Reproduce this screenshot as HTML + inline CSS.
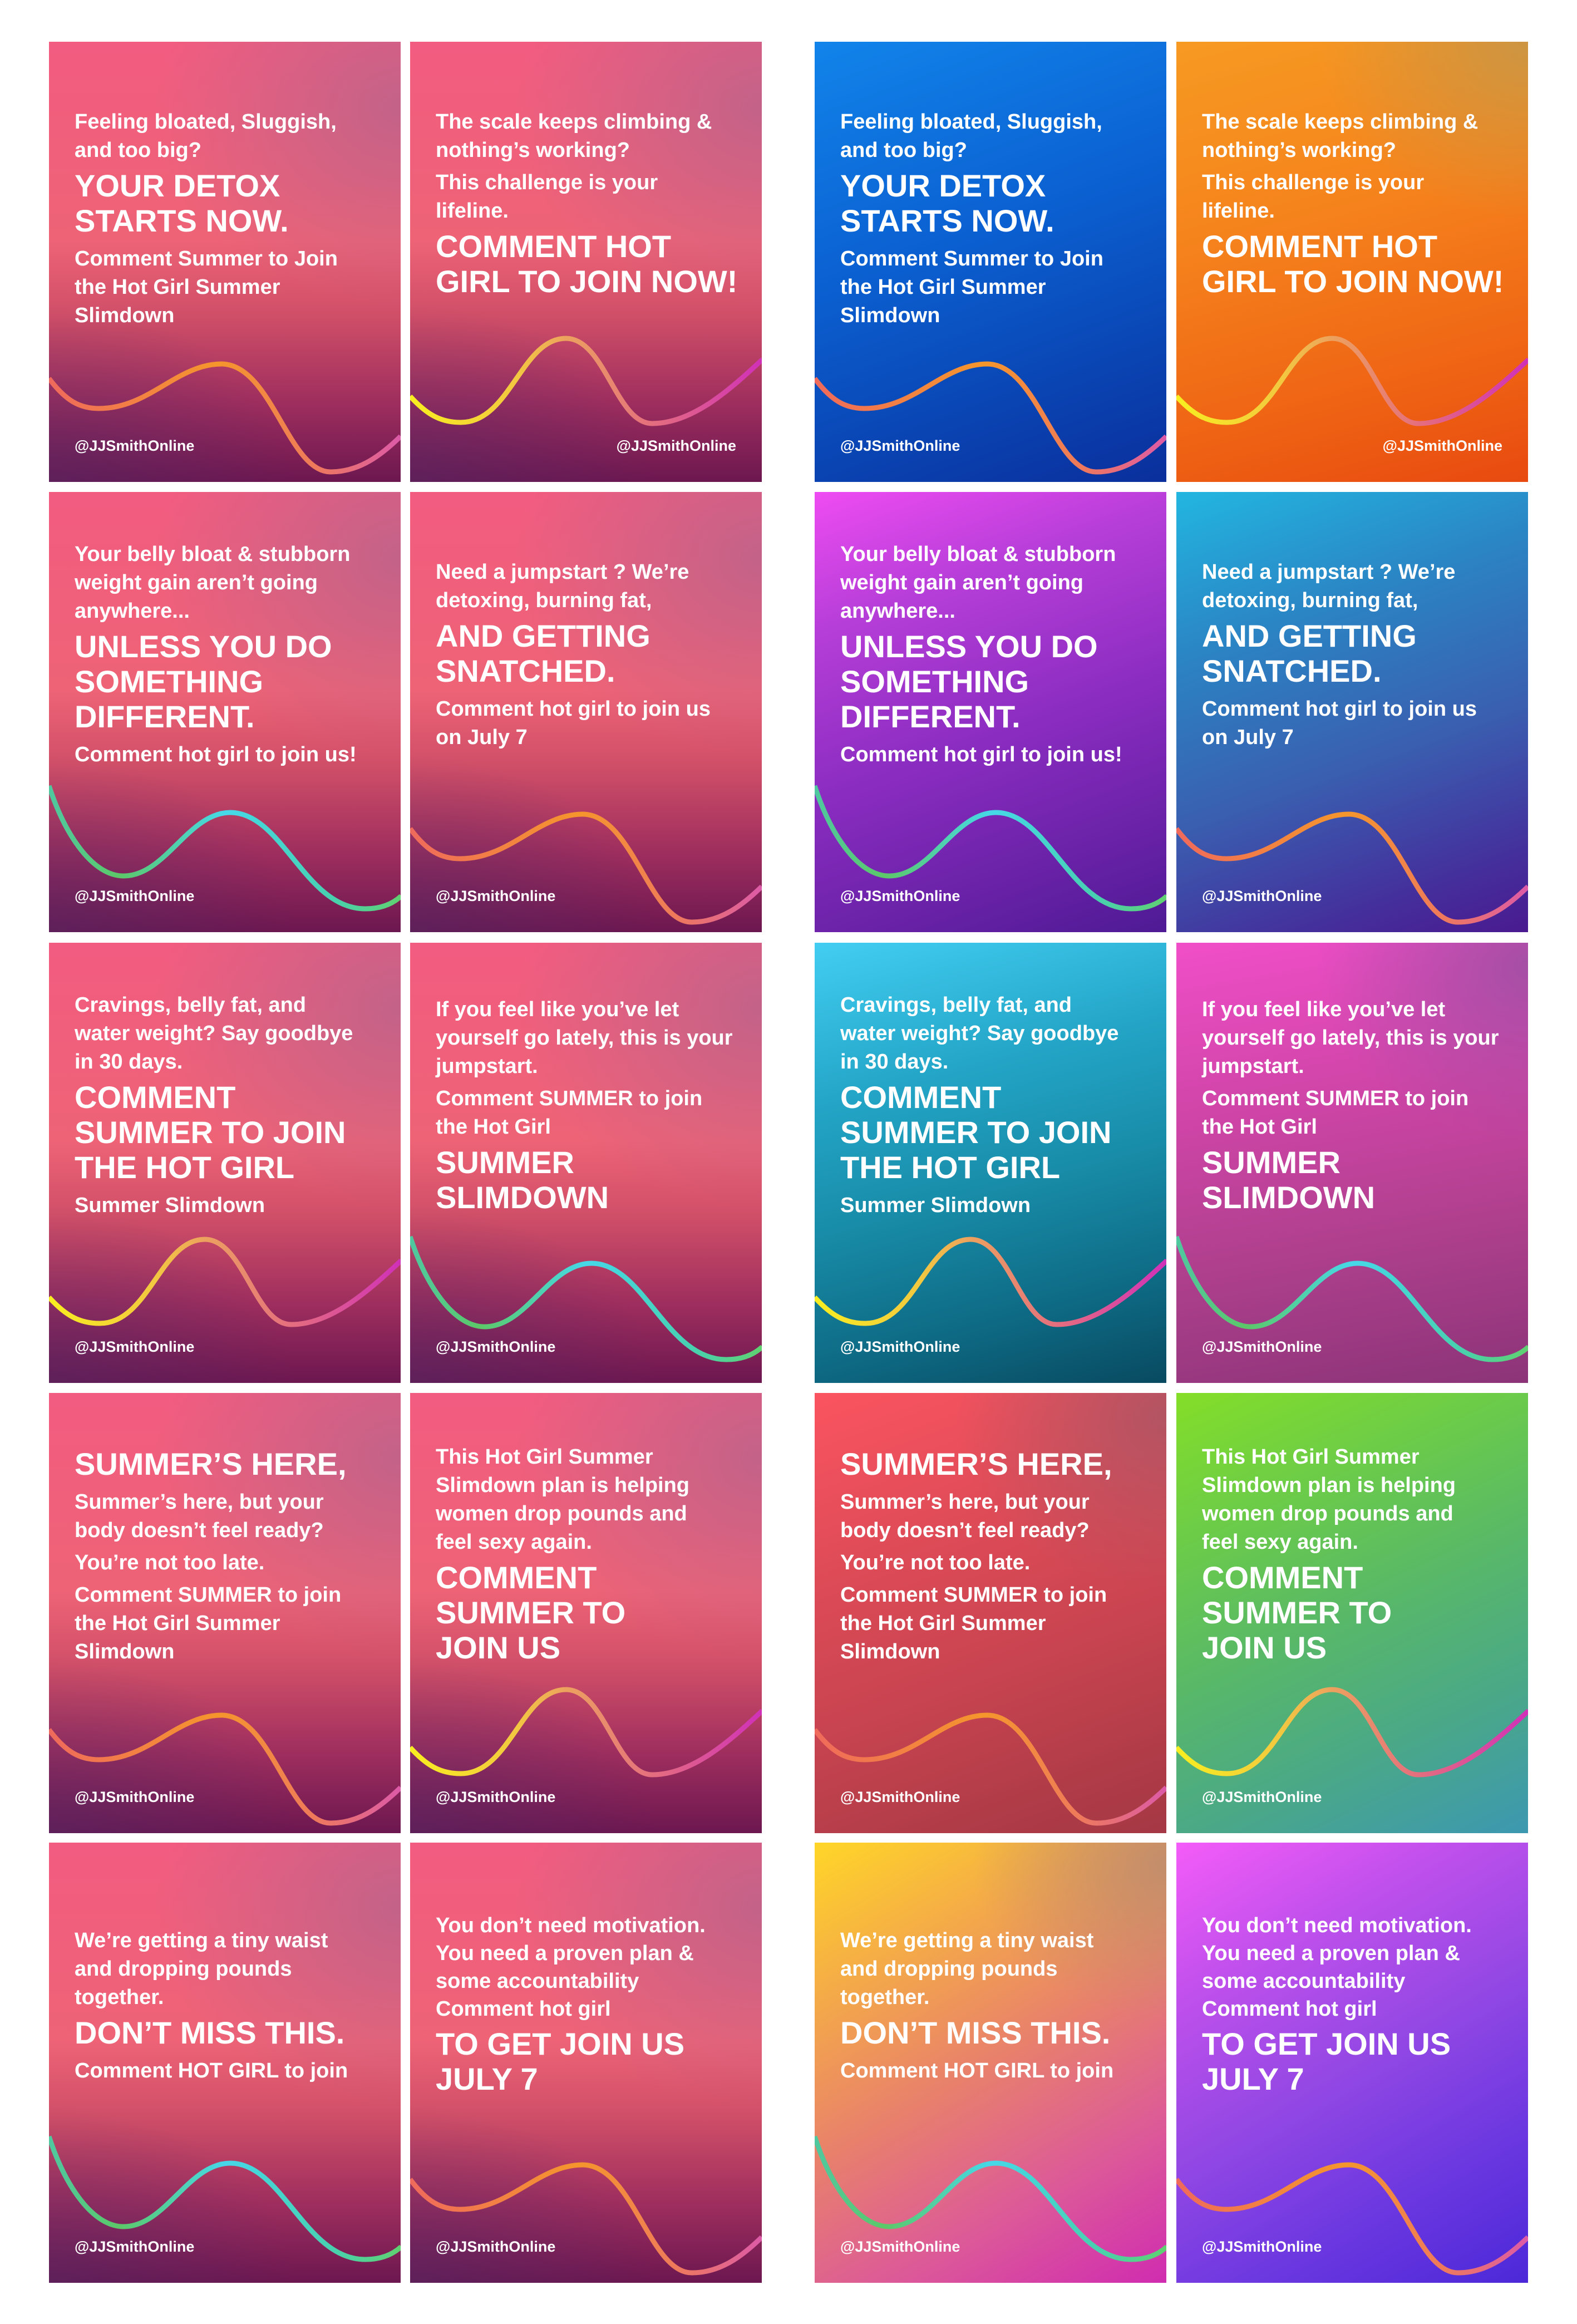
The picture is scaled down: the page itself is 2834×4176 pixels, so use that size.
<!DOCTYPE html>
<html><head><meta charset="utf-8">
<style>
html,body{margin:0;padding:0;background:#fff;}
body{width:2834px;height:4176px;position:relative;overflow:hidden;font-family:"Liberation Sans",sans-serif;color:#fff;}
.c{position:absolute;width:632px;height:791px;overflow:hidden;}
.c svg{position:absolute;left:0;top:0;}
.t{position:absolute;left:46px;top:119px;white-space:nowrap;}
.b{font-size:38px;line-height:51px;font-weight:bold;margin-top:7px;}
.h{font-size:56px;line-height:63px;font-weight:bold;margin-top:6px;}
.h+.b{margin-top:12px;}
.t>div:first-child{margin-top:0;}
.hd{position:absolute;left:46px;top:710px;font-size:27px;line-height:32px;font-weight:bold;}
.hd.r{left:auto;right:46px;}
.pink{background:radial-gradient(ellipse 70% 45% at 100% 15%,rgba(180,100,140,.75),rgba(180,100,140,0)),radial-gradient(ellipse 70% 40% at 0% 100%,rgba(80,40,100,.5),rgba(80,40,100,0)),linear-gradient(to bottom,#f25c80 0%,#ee6376 45%,#d04f68 62%,#9e2e5e 82%,#6c1750 100%);}
</style></head><body>
<svg width="0" height="0" style="position:absolute">
<defs>
<linearGradient id="gA" x1="0" y1="0" x2="632" y2="0" gradientUnits="userSpaceOnUse"><stop offset="0" stop-color="#ef6a5c"/><stop offset=".48" stop-color="#f5962c"/><stop offset=".75" stop-color="#ee7a5a"/><stop offset="1" stop-color="#dc5aa8"/></linearGradient>
<linearGradient id="gB" x1="0" y1="0" x2="632" y2="0" gradientUnits="userSpaceOnUse"><stop offset="0" stop-color="#f8ee20"/><stop offset=".3" stop-color="#f2c840"/><stop offset=".45" stop-color="#eca060"/><stop offset=".7" stop-color="#e46c80"/><stop offset="1" stop-color="#d030b8"/></linearGradient>
<linearGradient id="gC" x1="0" y1="0" x2="632" y2="0" gradientUnits="userSpaceOnUse"><stop offset="0" stop-color="#50c8a0"/><stop offset=".2" stop-color="#5cc868"/><stop offset=".5" stop-color="#46d8e8"/><stop offset=".8" stop-color="#48d0b0"/><stop offset="1" stop-color="#60d070"/></linearGradient>
<path id="wA" d="M0,605 C30,645 55,659 90,659 C180,659 230,579 310,579 C400,579 430,773 506,773 C560,773 600,740 632,709"/>
<path id="wB" d="M0,637 C30,670 55,684 91,684 C180,684 200,533 280,533 C350,533 370,686 435,686 C510,686 580,620 633,571"/>
<path id="wC" d="M0,528 C30,620 80,690 134,690 C210,690 250,576 326,576 C420,576 460,749 568,749 C600,749 620,738 633,726"/>
</defs></svg>

<!-- Row 1 -->
<div class="c pink" style="left:88px;top:75px;">
<svg width="632" height="791"><use href="#wA" fill="none" stroke="url(#gA)" stroke-width="9"/></svg>
<div class="t"><div class="b">Feeling bloated, Sluggish,<br>and too big?</div><div class="h">YOUR DETOX<br>STARTS NOW.</div><div class="b">Comment Summer to Join<br>the Hot Girl Summer<br>Slimdown</div></div>
<div class="hd">@JJSmithOnline</div></div>

<div class="c pink" style="left:737px;top:75px;">
<svg width="632" height="791"><use href="#wB" fill="none" stroke="url(#gB)" stroke-width="9"/></svg>
<div class="t"><div class="b">The scale keeps climbing &amp;<br>nothing’s working?</div><div class="b">This challenge is your<br>lifeline.</div><div class="h">COMMENT HOT<br>GIRL TO JOIN NOW!</div></div>
<div class="hd r">@JJSmithOnline</div></div>

<div class="c" style="left:1464px;top:75px;background:linear-gradient(160deg,#1184ea 0%,#0b5fd0 45%,#0a3caa 85%,#0a2f9c 100%);">
<svg width="632" height="791"><use href="#wA" fill="none" stroke="url(#gA)" stroke-width="9"/></svg>
<div class="t"><div class="b">Feeling bloated, Sluggish,<br>and too big?</div><div class="h">YOUR DETOX<br>STARTS NOW.</div><div class="b">Comment Summer to Join<br>the Hot Girl Summer<br>Slimdown</div></div>
<div class="hd">@JJSmithOnline</div></div>

<div class="c" style="left:2114px;top:75px;background:radial-gradient(ellipse 60% 40% at 100% 0%,rgba(200,150,70,.9),rgba(200,150,70,0)),linear-gradient(165deg,#f79a22 0%,#f5821c 40%,#ef6414 75%,#e84a10 100%);">
<svg width="632" height="791"><use href="#wB" fill="none" stroke="url(#gB)" stroke-width="9"/></svg>
<div class="t"><div class="b">The scale keeps climbing &amp;<br>nothing’s working?</div><div class="b">This challenge is your<br>lifeline.</div><div class="h">COMMENT HOT<br>GIRL TO JOIN NOW!</div></div>
<div class="hd r">@JJSmithOnline</div></div>

<!-- Row 2 -->
<div class="c pink" style="left:88px;top:884px;">
<svg width="632" height="791"><use href="#wC" fill="none" stroke="url(#gC)" stroke-width="9"/></svg>
<div class="t" style="top:87px"><div class="b">Your belly bloat &amp; stubborn<br>weight gain aren’t going<br>anywhere...</div><div class="h">UNLESS YOU DO<br>SOMETHING<br>DIFFERENT.</div><div class="b">Comment hot girl to join us!</div></div>
<div class="hd">@JJSmithOnline</div></div>

<div class="c pink" style="left:737px;top:884px;">
<svg width="632" height="791"><use href="#wA" fill="none" stroke="url(#gA)" stroke-width="9"/></svg>
<div class="t"><div class="b">Need a jumpstart ? We’re<br>detoxing, burning fat,</div><div class="h">AND GETTING<br>SNATCHED.</div><div class="b">Comment hot girl to join us<br>on July 7</div></div>
<div class="hd">@JJSmithOnline</div></div>

<div class="c" style="left:1464px;top:884px;background:linear-gradient(160deg,#ee4cf2 0%,#b63ed8 25%,#8a2cc0 55%,#6a22a8 80%,#4e1a94 100%);">
<svg width="632" height="791"><use href="#wC" fill="none" stroke="url(#gC)" stroke-width="9"/></svg>
<div class="t" style="top:87px"><div class="b">Your belly bloat &amp; stubborn<br>weight gain aren’t going<br>anywhere...</div><div class="h">UNLESS YOU DO<br>SOMETHING<br>DIFFERENT.</div><div class="b">Comment hot girl to join us!</div></div>
<div class="hd">@JJSmithOnline</div></div>

<div class="c" style="left:2114px;top:884px;background:linear-gradient(160deg,#22b6e0 0%,#2b84c4 30%,#3a5eb0 60%,#44309c 85%,#4a1a90 100%);">
<svg width="632" height="791"><use href="#wA" fill="none" stroke="url(#gA)" stroke-width="9"/></svg>
<div class="t"><div class="b">Need a jumpstart ? We’re<br>detoxing, burning fat,</div><div class="h">AND GETTING<br>SNATCHED.</div><div class="b">Comment hot girl to join us<br>on July 7</div></div>
<div class="hd">@JJSmithOnline</div></div>

<!-- Row 3 -->
<div class="c pink" style="left:88px;top:1694px;">
<svg width="632" height="791"><use href="#wB" fill="none" stroke="url(#gB)" stroke-width="9"/></svg>
<div class="t" style="top:87px"><div class="b">Cravings, belly fat, and<br>water weight? Say goodbye<br>in 30 days.</div><div class="h">COMMENT<br>SUMMER TO JOIN<br>THE HOT GIRL</div><div class="b">Summer Slimdown</div></div>
<div class="hd">@JJSmithOnline</div></div>

<div class="c pink" style="left:737px;top:1694px;">
<svg width="632" height="791"><use href="#wC" fill="none" stroke="url(#gC)" stroke-width="9"/></svg>
<div class="t" style="top:95px"><div class="b">If you feel like you’ve let<br>yourself go lately, this is your<br>jumpstart.</div><div class="b">Comment SUMMER to join<br>the Hot Girl</div><div class="h">SUMMER<br>SLIMDOWN</div></div>
<div class="hd">@JJSmithOnline</div></div>

<div class="c" style="left:1464px;top:1694px;background:linear-gradient(165deg,#42cef2 0%,#24a6c8 30%,#188ca8 55%,#0e6a84 80%,#084a60 100%);">
<svg width="632" height="791"><use href="#wB" fill="none" stroke="url(#gB)" stroke-width="9"/></svg>
<div class="t" style="top:87px"><div class="b">Cravings, belly fat, and<br>water weight? Say goodbye<br>in 30 days.</div><div class="h">COMMENT<br>SUMMER TO JOIN<br>THE HOT GIRL</div><div class="b">Summer Slimdown</div></div>
<div class="hd">@JJSmithOnline</div></div>

<div class="c" style="left:2114px;top:1694px;background:radial-gradient(ellipse 60% 40% at 100% 5%,rgba(150,80,160,.8),rgba(150,80,160,0)),linear-gradient(170deg,#f04ec8 0%,#d045a8 35%,#b0408e 65%,#8c3478 100%);">
<svg width="632" height="791"><use href="#wC" fill="none" stroke="url(#gC)" stroke-width="9"/></svg>
<div class="t" style="top:95px"><div class="b">If you feel like you’ve let<br>yourself go lately, this is your<br>jumpstart.</div><div class="b">Comment SUMMER to join<br>the Hot Girl</div><div class="h">SUMMER<br>SLIMDOWN</div></div>
<div class="hd">@JJSmithOnline</div></div>

<!-- Row 4 -->
<div class="c pink" style="left:88px;top:2503px;">
<svg width="632" height="791"><use href="#wA" fill="none" stroke="url(#gA)" stroke-width="9"/></svg>
<div class="t" style="top:96px"><div class="h">SUMMER’S HERE,</div><div class="b">Summer’s here, but your<br>body doesn’t feel ready?</div><div class="b">You’re not too late.</div><div class="b">Comment SUMMER to join<br>the Hot Girl Summer<br>Slimdown</div></div>
<div class="hd">@JJSmithOnline</div></div>

<div class="c pink" style="left:737px;top:2503px;">
<svg width="632" height="791"><use href="#wB" fill="none" stroke="url(#gB)" stroke-width="9"/></svg>
<div class="t" style="top:90px"><div class="b">This Hot Girl Summer<br>Slimdown plan is helping<br>women drop pounds and<br>feel sexy again.</div><div class="h">COMMENT<br>SUMMER TO<br>JOIN US</div></div>
<div class="hd">@JJSmithOnline</div></div>

<div class="c" style="left:1464px;top:2503px;background:radial-gradient(ellipse 60% 40% at 100% 5%,rgba(170,85,100,.85),rgba(170,85,100,0)),linear-gradient(160deg,#fa5460 0%,#e04c58 30%,#c84450 60%,#b03c48 85%,#a43844 100%);">
<svg width="632" height="791"><use href="#wA" fill="none" stroke="url(#gA)" stroke-width="9"/></svg>
<div class="t" style="top:96px"><div class="h">SUMMER’S HERE,</div><div class="b">Summer’s here, but your<br>body doesn’t feel ready?</div><div class="b">You’re not too late.</div><div class="b">Comment SUMMER to join<br>the Hot Girl Summer<br>Slimdown</div></div>
<div class="hd">@JJSmithOnline</div></div>

<div class="c" style="left:2114px;top:2503px;background:linear-gradient(155deg,#84de28 0%,#6ccc48 25%,#58b868 50%,#4aa888 75%,#3c98b0 100%);">
<svg width="632" height="791"><use href="#wB" fill="none" stroke="url(#gB)" stroke-width="9"/></svg>
<div class="t" style="top:90px"><div class="b">This Hot Girl Summer<br>Slimdown plan is helping<br>women drop pounds and<br>feel sexy again.</div><div class="h">COMMENT<br>SUMMER TO<br>JOIN US</div></div>
<div class="hd">@JJSmithOnline</div></div>

<!-- Row 5 -->
<div class="c pink" style="left:88px;top:3311px;">
<svg width="632" height="791"><use href="#wC" fill="none" stroke="url(#gC)" stroke-width="9"/></svg>
<div class="t" style="top:151px"><div class="b">We’re getting a tiny waist<br>and dropping pounds<br>together.</div><div class="h">DON’T MISS THIS.</div><div class="b">Comment HOT GIRL to join</div></div>
<div class="hd">@JJSmithOnline</div></div>

<div class="c pink" style="left:737px;top:3311px;">
<svg width="632" height="791"><use href="#wA" fill="none" stroke="url(#gA)" stroke-width="9"/></svg>
<div class="t" style="top:124px"><div class="b" style="line-height:50px">You don’t need motivation.<br>You need a proven plan &amp;<br>some accountability<br>Comment hot girl</div><div class="h">TO GET JOIN US<br>JULY 7</div></div>
<div class="hd">@JJSmithOnline</div></div>

<div class="c" style="left:1464px;top:3311px;background:radial-gradient(ellipse 55% 35% at 100% 5%,rgba(190,140,110,.9),rgba(190,140,110,0)),linear-gradient(150deg,#ffd628 0%,#f4aa48 25%,#e8806c 50%,#dc5a98 75%,#d02cb0 100%);">
<svg width="632" height="791"><use href="#wC" fill="none" stroke="url(#gC)" stroke-width="9"/></svg>
<div class="t" style="top:151px"><div class="b">We’re getting a tiny waist<br>and dropping pounds<br>together.</div><div class="h">DON’T MISS THIS.</div><div class="b">Comment HOT GIRL to join</div></div>
<div class="hd">@JJSmithOnline</div></div>

<div class="c" style="left:2114px;top:3311px;background:linear-gradient(150deg,#f45cf8 0%,#c050ec 25%,#9448e4 50%,#6c38e0 75%,#4c28d8 100%);">
<svg width="632" height="791"><use href="#wA" fill="none" stroke="url(#gA)" stroke-width="9"/></svg>
<div class="t" style="top:124px"><div class="b" style="line-height:50px">You don’t need motivation.<br>You need a proven plan &amp;<br>some accountability<br>Comment hot girl</div><div class="h">TO GET JOIN US<br>JULY 7</div></div>
<div class="hd">@JJSmithOnline</div></div>

</body></html>
